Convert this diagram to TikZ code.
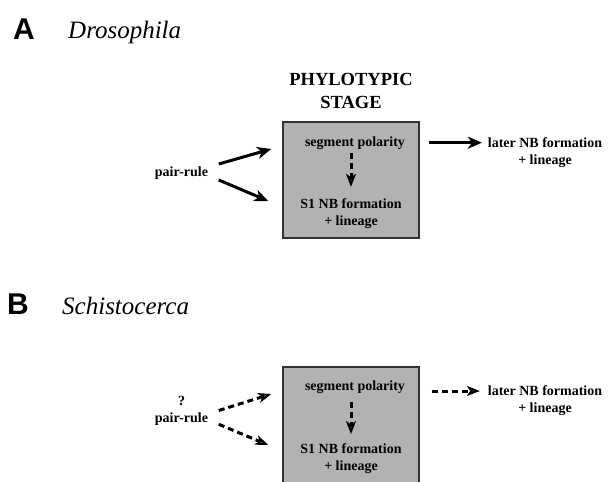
\documentclass[tikz,border=0pt]{standalone}
\usepackage{fontspec}
\setmainfont{Liberation Serif}
\setsansfont{Liberation Sans}
\usetikzlibrary{arrows.meta,positioning}

\begin{document}
\begin{tikzpicture}[
                        x=1pt, y=-1pt,
                        txt/.style={inner sep=0pt, outer sep=0pt, align=center, font=\fontsize{14}{17}\selectfont\bfseries},
                        panel/.style={inner sep=0pt, anchor=base west, font=\fontsize{30}{36}\selectfont\sffamily\bfseries},
                        species/.style={inner sep=0pt, anchor=base west, font=\fontsize{25}{30}\selectfont\itshape},
                        stagebox/.style={rectangle, draw=black!80, line width=1.6pt, fill=black!30, minimum width=136pt, minimum height=116pt, inner sep=0pt},
                        solidarrow/.style={line width=3pt, -{Stealth[length=14pt,width=12pt,inset=4pt]}},
                        dashedarrow/.style={line width=3pt, dash pattern=on 6pt off 4pt, -{Stealth[open,length=13pt,width=10pt,inset=3.5pt,line width=2pt]}}
                    ]
                    \useasboundingbox (0,0) rectangle (609,481);

                    % Panel A
                    \node [panel] (labA) at (13,40) {A};
                    \node [species] (spA) at (68,39) {Drosophila};
                    \node [stagebox] (boxA) at (351,180) {};
                    \node [txt, font=\fontsize{18.5}{22.5}\selectfont\bfseries, above=13pt of boxA] (stage) {PHYLOTYPIC\\STAGE};
                    \node [txt] (segA) at (355,143.3) {segment polarity};
                    \node [txt] (s1A) at (351,213.8) {S1 NB formation\\+ lineage};
                    \node [txt] (pairA) at (181.5,173.5) {pair-rule};
                    \node [txt] (laterA) at (545,152.7) {later NB formation\\+ lineage};

                    % Connections A
                    \draw [solidarrow] ([xshift=10.7pt,yshift=9.5pt]pairA.east) -- ([xshift=-11pt,yshift=31pt]boxA.west);
                    \draw [solidarrow] ([xshift=10.7pt,yshift=-6.5pt]pairA.east) -- ([xshift=-14pt,yshift=-21pt]boxA.west);
                    \draw [solidarrow] ([xshift=9pt,yshift=37.3pt]boxA.east) -- ([xshift=-6pt,yshift=10pt]laterA.west);
                    \draw [dashedarrow, shorten <=3pt, shorten >=12pt] (boxA.center |- segA.south) -- (boxA.center |- s1A.north);

                    % Panel B
                    \node [panel] (labB) at (7,314) {B};
                    \node [species] (spB) at (62,314) {Schistocerca};
                    \node [stagebox] (boxB) at (351,425) {};
                    \node [txt] (segB) at (355,387) {segment polarity};
                    \node [txt] (s1B) at (351,459) {S1 NB formation\\+ lineage};
                    \node [txt] (pairB) at (181.5,410.5) {?\\pair-rule};
                    \node [txt] (laterB) at (545,401) {later NB formation\\+ lineage};

                    % Connections B
                    \draw [dashedarrow] ([xshift=10.7pt]pairB.east) -- ([xshift=-11pt,yshift=31pt]boxB.west);
                    \draw [dashedarrow] ([xshift=10.7pt,yshift=-13.8pt]pairB.east) -- ([xshift=-14pt,yshift=-20pt]boxB.west);
                    \draw [dashedarrow] ([xshift=12pt,yshift=34pt]boxB.east) -- ([xshift=-8pt,yshift=10pt]laterB.west);
                    \draw [dashedarrow, shorten <=9pt, shorten >=10pt] (boxB.center |- segB.south) -- (boxB.center |- s1B.north);
                \end{tikzpicture}
\end{document}
